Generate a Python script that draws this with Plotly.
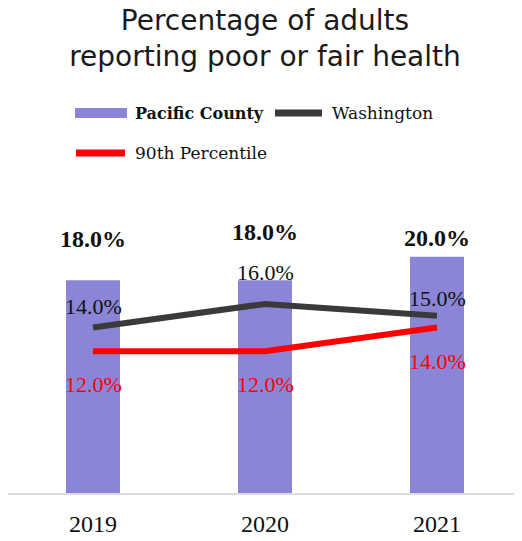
import plotly.graph_objects as go

# ---- data ----
years = ["2019", "2020", "2021"]
pacific = [18.0, 18.0, 20.0]
washington = [14.0, 16.0, 15.0]
pct90 = [12.0, 12.0, 14.0]

# ---- style ----
BAR_COLOR = "#8B85D7"
WA_COLOR = "#3A3A3A"
RED = "#FF0000"
SERIF = "Liberation Serif"
LEG_FONT = "DejaVu Serif"

# label offsets (px) per point
bar_lbl_shift = [41, 48, 19]
wa_lbl_shift = [21, 31, 17]
red_lbl_shift = [-33, -33, -34]

# page has an 8px body margin, so the figure is sized to fit inside the window
OFF = 8
W, H = 522 - OFF, 541 - OFF
ML, MR, MT, MB = 0, 0, 225, 48
pw, ph = W - ML - MR, H - MT - MB
CAT_PX = 172.0
x0 = -(93 - OFF - ML) / CAT_PX
x1 = x0 + pw / CAT_PX


def px(x):  # window pixel -> paper fraction
    return (x - OFF - ML) / pw


def py(y):
    return (H - MB - (y - OFF)) / ph


fig = go.Figure()
fig.add_trace(go.Bar(x=years, y=pacific, name="Pacific County",
                     marker=dict(color=BAR_COLOR, line=dict(width=0)),
                     width=0.314, showlegend=False))
fig.add_trace(go.Scatter(x=years, y=washington, name="Washington", mode="lines",
                         line=dict(color=WA_COLOR, width=6), showlegend=False))
fig.add_trace(go.Scatter(x=years, y=pct90, name="90th Percentile", mode="lines",
                         line=dict(color=RED, width=6), showlegend=False))

ann = []
for i, yr in enumerate(years):
    ann.append(dict(x=i, y=pacific[i], xref="x", yref="y", yshift=bar_lbl_shift[i],
                    text=f"<b>{pacific[i]:.1f}%</b>", showarrow=False,
                    font=dict(family=SERIF, size=24, color="#111111")))
    ann.append(dict(x=i, y=washington[i], xref="x", yref="y", yshift=wa_lbl_shift[i],
                    text=f"{washington[i]:.1f}%", showarrow=False,
                    font=dict(family=SERIF, size=22, color="#111111")))
    ann.append(dict(x=i, y=pct90[i], xref="x", yref="y", yshift=red_lbl_shift[i],
                    text=f"{pct90[i]:.1f}%", showarrow=False,
                    font=dict(family=SERIF, size=22, color=RED)))

shapes = [
    dict(type="rect", xref="paper", yref="paper", x0=px(75), x1=px(127), y0=py(118), y1=py(108),
         fillcolor=BAR_COLOR, line=dict(width=0)),
    dict(type="line", xref="paper", yref="paper", x0=px(275), x1=px(322), y0=py(113), y1=py(113),
         line=dict(color=WA_COLOR, width=7)),
    dict(type="line", xref="paper", yref="paper", x0=px(76), x1=px(125), y0=py(153), y1=py(153),
         line=dict(color=RED, width=7)),
]
ann += [
    dict(xref="paper", yref="paper", x=px(133), y=py(113), xanchor="left", yanchor="middle",
         text="<b>Pacific County</b>", showarrow=False,
         font=dict(family=LEG_FONT, size=16, color="#111111")),
    dict(xref="paper", yref="paper", x=px(330), y=py(113), xanchor="left", yanchor="middle",
         text="Washington", showarrow=False,
         font=dict(family=LEG_FONT, size=17, color="#111111")),
    dict(xref="paper", yref="paper", x=px(133), y=py(153), xanchor="left", yanchor="middle",
         text="90th Percentile", showarrow=False,
         font=dict(family=LEG_FONT, size=17, color="#111111")),
]

fig.update_layout(
    width=W, height=H,
    margin=dict(l=ML, r=MR, t=MT, b=MB, autoexpand=False),
    paper_bgcolor="white", plot_bgcolor="white",
    title=dict(text="Percentage of adults<br>reporting poor or fair health",
               x=px(265), xref="paper", xanchor="center",
               y=0.959, yref="container", yanchor="top",
               font=dict(family="DejaVu Sans", size=28, color="#1a1a1a")),
    annotations=ann,
    shapes=shapes,
    xaxis=dict(type="category", range=[x0, x1], autorange=False,
               showgrid=False, zeroline=False,
               showline=True, linecolor="#DCDCDC", linewidth=2,
               ticks="", tickfont=dict(family=SERIF, size=24, color="#111111"),
               ticklabelstandoff=8, automargin=False),
    yaxis=dict(range=[0, 22], autorange=False, visible=False,
               showgrid=False, zeroline=False),
)

fig.write_html("out.html")
